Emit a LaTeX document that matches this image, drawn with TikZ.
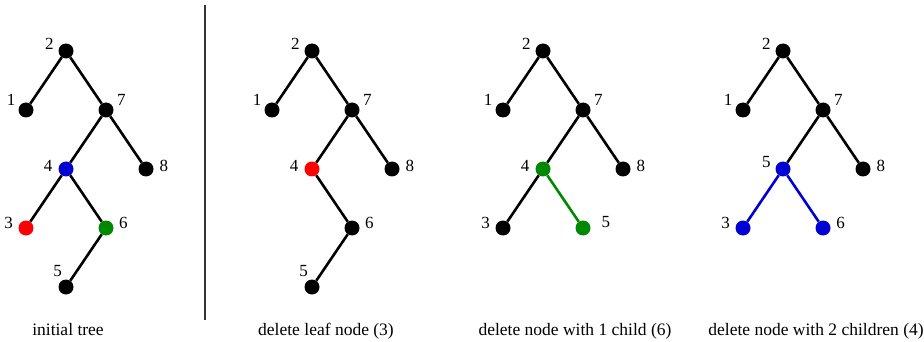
\documentclass[tikz,border=0pt]{standalone}
\usepackage{fontspec}
\setmainfont{Liberation Serif}
\usetikzlibrary{positioning}
\definecolor{delred}{RGB}{255,0,0}
\definecolor{delgreen}{RGB}{0,136,0}
\definecolor{delblue}{RGB}{0,0,210}

\begin{document}
\begin{tikzpicture}[x=1pt,y=-1pt,on grid,node distance=59pt and 40pt,
	key/.style={circle,fill=black,minimum size=15pt,inner sep=0pt},
	lab/.style={anchor=center,inner sep=0pt,label distance=10.5pt,font=\fontsize{17}{18}\selectfont},
	edge/.style={line width=2.6pt},
	caption/.style={anchor=base,font=\fontsize{17.5}{18}\selectfont},
	sep/.style={line width=1.3pt,black!80}]
	\useasboundingbox (0,0) rectangle (924,342);

	% initial tree
	\node[key] (i2) at (66,51) [label={[lab]156:2}] {};
	\node[key] (i1) [below left=of i2,label={[lab]145:1}] {};
	\node[key] (i7) [below right=of i2,label={[lab]33:7}] {};
	\node[key,fill=delblue] (i4) [below left=of i7,label={[lab]169:4}] {};
	\node[key] (i8) [below right=of i7,label={[lab]10:8}] {};
	\node[key,fill=delred] (i3) [below left=of i4,label={[lab]163:3}] {};
	\node[key,fill=delgreen] (i6) [below right=of i4,label={[lab]16:6}] {};
	\node[key] (i5) [below left=of i6,label={[lab]117:5}] {};
	\draw[edge] (i2) -- (i1) (i2) -- (i7) (i7) -- (i4) (i7) -- (i8)
		(i4) -- (i3) (i4) -- (i6) (i6) -- (i5);

	% delete leaf node
	\node[key] (l2) at (312,51) [label={[lab]156:2}] {};
	\node[key] (l1) [below left=of l2,label={[lab]145:1}] {};
	\node[key] (l7) [below right=of l2,label={[lab]33:7}] {};
	\node[key,fill=delred] (l4) [below left=of l7,label={[lab]169:4}] {};
	\node[key] (l8) [below right=of l7,label={[lab]10:8}] {};
	\node[key] (l6) [below right=of l4,label={[lab]16:6}] {};
	\node[key] (l5) [below left=of l6,label={[lab]117:5}] {};
	\draw[edge] (l2) -- (l1) (l2) -- (l7) (l7) -- (l4) (l7) -- (l8)
		(l4) -- (l6) (l6) -- (l5);

	% delete node with one child
	\node[key] (o2) at (543,51) [label={[lab]156:2}] {};
	\node[key] (o1) [below left=of o2,label={[lab]145:1}] {};
	\node[key] (o7) [below right=of o2,label={[lab]33:7}] {};
	\node[key,fill=delgreen] (o4) [below left=of o7,label={[lab]169:4}] {};
	\node[key] (o8) [below right=of o7,label={[lab]10:8}] {};
	\node[key] (o3) [below left=of o4,label={[lab]163:3}] {};
	\node[key,fill=delgreen] (o5) [below right=of o4,label={[lab,label distance=16pt]15:5}] {};
	\draw[edge] (o2) -- (o1) (o2) -- (o7) (o7) -- (o4) (o7) -- (o8)
		(o4) -- (o3);
	\draw[edge,delgreen] (o4) -- (o5);

	% delete node with two children
	\node[key] (t2) at (783,51) [label={[lab]156:2}] {};
	\node[key] (t1) [below left=of t2,label={[lab]145:1}] {};
	\node[key] (t7) [below right=of t2,label={[lab]33:7}] {};
	\node[key,fill=delblue] (t5) [below left=of t7,label={[lab]156:5}] {};
	\node[key] (t8) [below right=of t7,label={[lab]10:8}] {};
	\node[key,fill=delblue] (t3) [below left=of t5,label={[lab]163:3}] {};
	\node[key,fill=delblue] (t6) [below right=of t5,label={[lab]16:6}] {};
	\draw[edge] (t2) -- (t1) (t2) -- (t7) (t7) -- (t5) (t7) -- (t8);
	\draw[edge,delblue] (t5) -- (t3) (t5) -- (t6);

	\coordinate (sepTop) at (205,5);
	\coordinate (sepBot) at (205,320);
	\draw[sep] (sepTop) -- (sepBot);

	\node[caption] (capInit) at (68,335) {initial tree};
	\node[caption] (capLeaf) at (326,335) {delete leaf node (3)};
	\node[caption] (capOne) at (575,335) {delete node with 1 child (6)};
	\node[caption] (capTwo) at (816,335) {delete node with 2 children (4)};
\end{tikzpicture}
\end{document}
